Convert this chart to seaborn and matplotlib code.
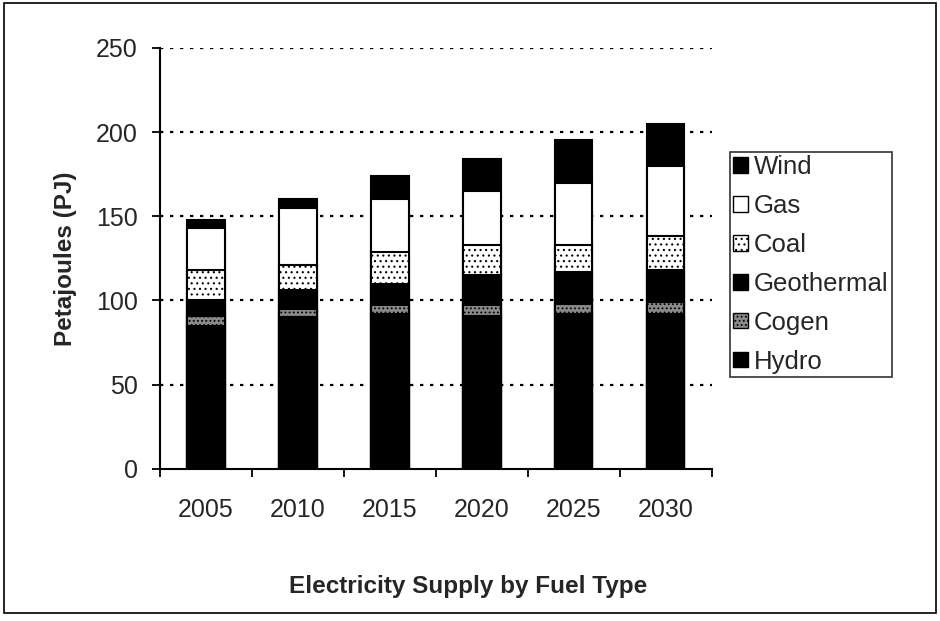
import numpy as np
import pandas as pd
import matplotlib
matplotlib.use('Agg')
import matplotlib.pyplot as plt
from matplotlib.patches import Patch, Rectangle
import seaborn as sns

# =========== DATA ==========================================
years = ['2005', '2010', '2015', '2020', '2025', '2030']
hydro = [85, 90, 92, 91, 92, 92]
cogen = [6, 5, 5, 6, 6, 7]
geothermal = [9, 11, 13, 18, 19, 19]
coal = [18, 15, 19, 18, 16, 20]
gas = [25, 34, 31, 32, 37, 42]
wind = [5, 5, 14, 19, 25, 25]

series = ['Hydro', 'Cogen', 'Geothermal', 'Coal', 'Gas', 'Wind']
values = [hydro, cogen, geothermal, coal, gas, wind]
# face colour and hatch per series, legend swatches of the scan
styles = {'Hydro': ('black', ''),
          'Cogen': ('#8a8a8a', '....'),
          'Geothermal': ('black', ''),
          'Coal': ('white', '...'),
          'Gas': ('white', ''),
          'Wind': ('black', '')}

sns.set_style('white')
plt.rcParams['font.family'] = ['Liberation Sans', 'DejaVu Sans']
plt.rcParams['hatch.color'] = 'black'
plt.rcParams['hatch.linewidth'] = 0.8

df = pd.DataFrame(dict(zip(series, values)), index=years)
cum = df.cumsum(axis=1)

fig = plt.figure(figsize=(9.4, 6.21), dpi=100)
ax = fig.add_axes([0.170, 0.245, 0.587, 0.678])

# stacked bars: draw cumulative totals from the top down
for name in series[::-1]:
    fc, hatch = styles[name]
    sns.barplot(x=years, y=cum[name].values, ax=ax, color=fc, width=0.41,
                edgecolor='black', linewidth=1.5, hatch=hatch, saturation=1,
                zorder=3)

ax.set_ylim(0, 250)
ax.set_xlim(-0.5, 5.5)
ax.set_yticks(range(0, 251, 50))
for y in range(50, 251, 50):
    ax.axhline(y, color='black', linestyle=(0, (1.5, 3)), linewidth=1.6, zorder=1)

for s in ['top', 'right']:
    ax.spines[s].set_visible(False)
for s in ['left', 'bottom']:
    ax.spines[s].set_color('black')
    ax.spines[s].set_linewidth(1.5)

ax.tick_params(axis='y', direction='out', length=6, width=1.3, color='black',
               labelsize=18, pad=10, left=True)
ax.tick_params(axis='x', which='major', length=0, labelsize=18, pad=21)
ax.set_xticks(np.arange(-0.5, 6, 1), minor=True)
ax.tick_params(axis='x', which='minor', direction='out', length=6, width=1.3,
               color='black', bottom=True)

ax.set_ylabel('Petajoules (PJ)', fontsize=17.5, fontweight='bold')
ax.set_xlabel('Electricity Supply by Fuel Type', fontsize=17.5, fontweight='bold')
ax.yaxis.set_label_coords(-0.150, 0.50)
ax.xaxis.set_label_coords(0.558, -0.252)
ax.grid(False)

handles = [Patch(facecolor=styles[n][0], hatch=styles[n][1], edgecolor='black',
                 linewidth=1, label=n) for n in series[::-1]]
leg = fig.legend(handles=handles, loc='upper left', bbox_to_anchor=(0.777, 0.755),
                 frameon=True, fancybox=False, fontsize=18.5, handlelength=0.55,
                 handleheight=0.55, handletextpad=0.25, labelspacing=0.58,
                 borderpad=0.12, borderaxespad=0)
leg.get_frame().set_edgecolor('black')
leg.get_frame().set_linewidth(1.2)

# thin border around the whole chart
fig.patches.append(Rectangle((0.004, 0.013), 0.992, 0.982, transform=fig.transFigure,
                             fill=False, edgecolor='black', linewidth=1.2))

plt.savefig('out.png', dpi=100)
plt.close()
